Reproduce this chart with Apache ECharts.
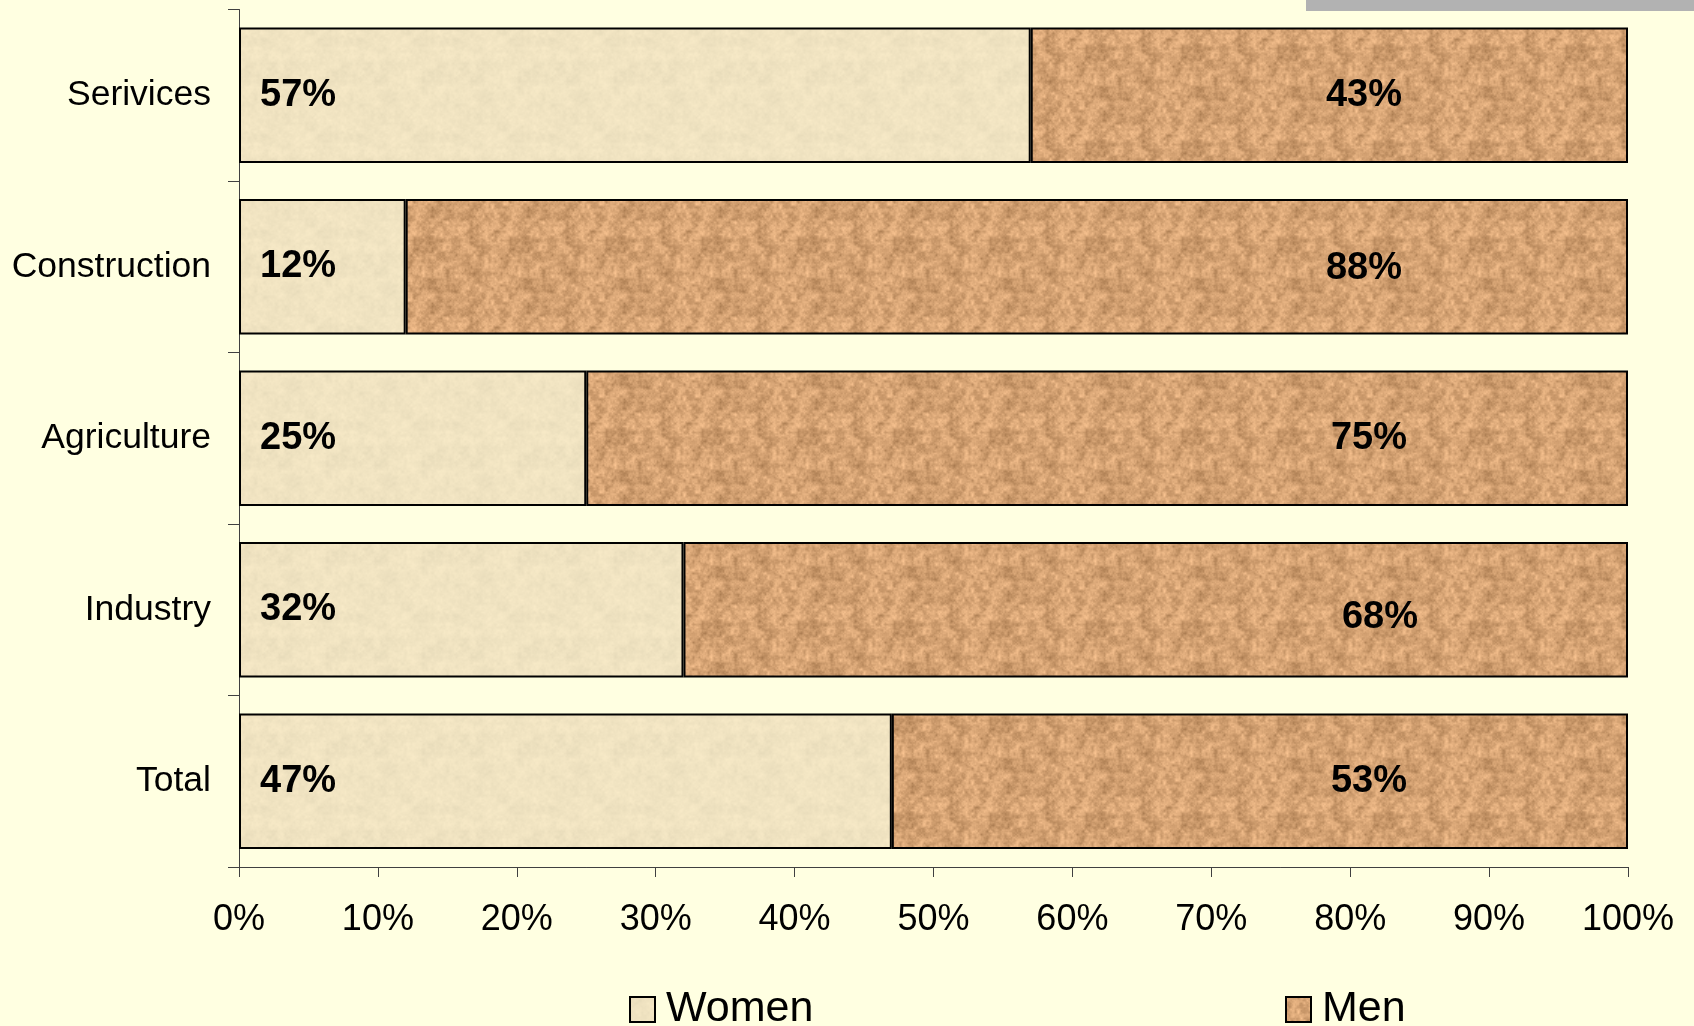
<!DOCTYPE html>
<html>
<head>
<meta charset="utf-8">
<script src="https://cdn.jsdelivr.net/npm/echarts@6/dist/echarts.min.js"></script>
<style>
html,body{margin:0;padding:0;background:#ffffe1;}
#chart{width:1694px;height:1026px;}
</style>
</head>
<body>
<div id="chart"></div>
<script>
// Data (top to bottom)
const categories = ['Serivices', 'Construction', 'Agriculture', 'Industry', 'Total'];
const women = [57, 12, 25, 32, 47];
const men = [43, 88, 75, 68, 53];
const xTicks = [0, 10, 20, 30, 40, 50, 60, 70, 80, 90, 100];

// Deterministic texture (style only)
function hash(x, y, s) {
  const v = Math.sin(x * 127.1 + y * 311.7 + s * 74.7) * 43758.5453;
  return v - Math.floor(v);
}
function vnoise(x, y, s, period) {
  const x0 = Math.floor(x), y0 = Math.floor(y);
  const fx = x - x0, fy = y - y0;
  const ux = fx * fx * (3 - 2 * fx), uy = fy * fy * (3 - 2 * fy);
  const w = (a) => ((a % period) + period) % period;
  const a = hash(w(x0), w(y0), s), b = hash(w(x0 + 1), w(y0), s);
  const c = hash(w(x0), w(y0 + 1), s), d = hash(w(x0 + 1), w(y0 + 1), s);
  return a + (b - a) * ux + (c - a) * uy + (a - b - c + d) * ux * uy;
}
function makeTexture(size, base, amp, seed) {
  const cv = document.createElement('canvas');
  cv.width = size; cv.height = size;
  const ctx = cv.getContext('2d');
  const img = ctx.createImageData(size, size);
  for (let y = 0; y < size; y++) {
    for (let x = 0; x < size; x++) {
      let n = 0.45 * vnoise(x / 8, y / 8, seed, size / 8)
            + 0.35 * vnoise(x / 3, y / 3, seed + 1, Math.round(size / 3))
            + 0.20 * vnoise(x / 1.5, y / 1.5, seed + 2, Math.round(size / 1.5));
      n = (n - 0.5) * amp;
      const i = (y * size + x) * 4;
      img.data[i] = Math.max(0, Math.min(255, base[0] + n));
      img.data[i + 1] = Math.max(0, Math.min(255, base[1] + n * 0.9));
      img.data[i + 2] = Math.max(0, Math.min(255, base[2] + n * 0.8));
      img.data[i + 3] = 255;
    }
  }
  ctx.putImageData(img, 0, 0);
  return cv;
}
const womenTex = makeTexture(96, [240, 227, 193], 20, 3);
const menTex = makeTexture(96, [210, 160, 113], 100, 7);

// label nudges (style only), top to bottom
const menLabelNudge = [[0, 0], [0, 2], [5, 0], [16, 8], [5, 0]];

const chart = echarts.init(document.getElementById('chart'));
const FF = 'Liberation Sans, Arial, sans-serif';
const labelFont = { fontFamily: FF, fontWeight: 'bold', fontSize: 38, color: '#000' };

chart.setOption({
  backgroundColor: '#ffffe1',
  animation: false,
  graphic: [{
    type: 'rect', shape: { x: 1306, y: 0, width: 388, height: 11 },
    style: { fill: '#b2b2b2' }, silent: true
  }],
  grid: { left: 239, right: 66, top: 9.5, bottom: 159, containLabel: false },
  legend: [{
    data: ['Women'], icon: 'rect', left: 624, top: 983, itemWidth: 25, itemHeight: 25,
    itemStyle: { borderColor: '#000', borderWidth: 2 },
    textStyle: { fontFamily: FF, fontSize: 43, color: '#000', padding: [0, 0, 0, 6] }
  }, {
    data: ['Men'], icon: 'rect', left: 1280, top: 983, itemWidth: 25, itemHeight: 25,
    itemStyle: { borderColor: '#000', borderWidth: 2 },
    textStyle: { fontFamily: FF, fontSize: 43, color: '#000', padding: [0, 0, 0, 6] }
  }],
  xAxis: {
    type: 'value', min: 0, max: 100, interval: 10,
    axisLine: { show: true, lineStyle: { color: '#404040', width: 1 } },
    axisTick: { show: true, length: 10, lineStyle: { color: '#404040' } },
    splitLine: { show: false },
    axisLabel: {
      margin: 35, fontFamily: FF, fontSize: 36, color: '#000',
      formatter: (v) => xTicks.includes(v) ? v + '%' : ''
    }
  },
  yAxis: {
    type: 'category', data: categories, inverse: true,
    axisLine: { show: true, lineStyle: { color: '#404040', width: 1 } },
    axisTick: { show: true, length: 11, lineStyle: { color: '#404040' } },
    axisLabel: { margin: 28, fontFamily: FF, fontSize: 35.5, color: '#000' }
  },
  series: [{
    name: 'Women', type: 'bar', stack: 'total', data: women, barCategoryGap: '21%',
    itemStyle: { color: { image: womenTex, repeat: 'repeat' }, borderColor: '#000', borderWidth: 2 },
    label: Object.assign({ show: true, position: 'insideLeft', distance: 21, formatter: '{c}%' }, labelFont)
  }, {
    name: 'Men', type: 'bar', stack: 'total', barCategoryGap: '21%',
    data: men.map((v, i) => ({ value: v, label: { offset: menLabelNudge[i] } })),
    itemStyle: { color: { image: menTex, repeat: 'repeat' }, borderColor: '#000', borderWidth: 2 },
    label: Object.assign({ show: true, position: 'insideRight', distance: 226, formatter: '{c}%' }, labelFont)
  }]
});
</script>
</body>
</html>
